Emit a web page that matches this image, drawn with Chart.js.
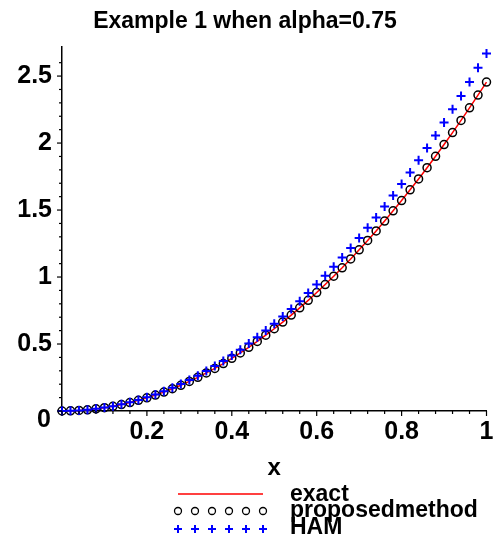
<!DOCTYPE html>
<html><head><meta charset="utf-8">
<script src="https://cdn.jsdelivr.net/npm/chart.js@4"></script>
<style>html,body{margin:0;padding:0;background:#fff}#wrap{width:493px;height:540px}</style>
</head><body><div id="wrap"><canvas id="c" width="493" height="540"></canvas></div>
<script>
const titleText = 'Example 1 when alpha=0.75';
const xAxisTitle = 'x';
const seriesNames = ['exact', 'proposedmethod', 'HAM'];
const xTickLabels = ['0.2', '0.4', '0.6', '0.8', '1'];
const yTickLabels = ['0.5', '1', '1.5', '2', '2.5'];
const originLabel = '0';

const xValues = [0,0.02,0.04,0.06,0.08,0.1,0.12,0.14,0.16,0.18,0.2,0.22,0.24,0.26,0.28,0.3,0.32,0.34,0.36,0.38,0.4,0.42,0.44,0.46,0.48,0.5,0.52,0.54,0.56,0.58,0.6,0.62,0.64,0.66,0.68,0.7,0.72,0.74,0.76,0.78,0.8,0.82,0.84,0.86,0.88,0.9,0.92,0.94,0.96,0.98,1];
const exactValues = [0,0.001,0.004,0.009,0.016,0.025,0.035,0.048,0.063,0.080,0.098,0.119,0.141,0.166,0.192,0.221,0.251,0.284,0.318,0.354,0.393,0.433,0.475,0.519,0.566,0.614,0.664,0.716,0.770,0.826,0.884,0.944,1.006,1.069,1.135,1.203,1.273,1.344,1.418,1.494,1.571,1.651,1.732,1.816,1.901,1.989,2.078,2.169,2.263,2.358,2.455];
const proposedValues = [0,0.001,0.004,0.009,0.016,0.025,0.035,0.048,0.063,0.080,0.098,0.119,0.141,0.166,0.192,0.221,0.251,0.284,0.318,0.354,0.393,0.433,0.475,0.519,0.566,0.614,0.664,0.716,0.770,0.826,0.884,0.944,1.006,1.069,1.135,1.203,1.273,1.344,1.418,1.494,1.571,1.651,1.732,1.816,1.901,1.989,2.078,2.169,2.263,2.358,2.455];
const hamValues = [0,0.001,0.004,0.009,0.016,0.026,0.036,0.050,0.065,0.083,0.102,0.124,0.147,0.173,0.201,0.232,0.263,0.298,0.335,0.373,0.415,0.458,0.503,0.550,0.600,0.652,0.706,0.762,0.820,0.881,0.944,1.009,1.076,1.145,1.217,1.291,1.367,1.445,1.526,1.609,1.694,1.781,1.871,1.963,2.056,2.153,2.252,2.352,2.456,2.562,2.669];

const toPts = ys => xValues.map((x, i) => ({x: x, y: ys[i]}));
const fmt = v => String(Math.round(v * 100) / 100);
const isMult = (v, s) => Math.abs(v / s - Math.round(v / s)) < 1e-6;

const tickPlugin = {
  id: 'customTicks',
  afterDraw(chart) {
    const ctx = chart.ctx;
    const xs = chart.scales.x, ys = chart.scales.y;
    const ca = chart.chartArea;
    ctx.save();
    ctx.strokeStyle = '#000';
    ctx.lineWidth = 1.2;
    ys.ticks.forEach(t => {
      const py = ys.getPixelForValue(t.value);
      const len = isMult(t.value, 0.5) ? 5 : 3;
      ctx.beginPath(); ctx.moveTo(ca.left - len, py); ctx.lineTo(ca.left, py); ctx.stroke();
    });
    xs.ticks.forEach(t => {
      const px = xs.getPixelForValue(t.value);
      const len = isMult(t.value, 0.2) ? 5 : 3;
      ctx.beginPath(); ctx.moveTo(px, ca.bottom); ctx.lineTo(px, ca.bottom + len); ctx.stroke();
    });
    ctx.fillStyle = '#000';
    ctx.font = 'bold 25px "Liberation Sans", Arial, sans-serif';
    ctx.textAlign = 'right';
    ctx.textBaseline = 'middle';
    ctx.fillText(originLabel, ca.left - 11, ys.getPixelForValue(0) + 9);
    ctx.restore();
  }
};

const legendPlugin = {
  id: 'customLegend',
  afterDraw(chart) {
    const ctx = chart.ctx;
    const ds = chart.data.datasets;
    const x0 = 178, x1 = 263;
    const rows = [494, 511, 529];
    ctx.save();
    ctx.strokeStyle = ds[0].borderColor;
    ctx.lineWidth = 1.5;
    ctx.beginPath(); ctx.moveTo(x0, rows[0]); ctx.lineTo(x1, rows[0]); ctx.stroke();
    for (let i = 0; i < 6; i++) {
      const px = x0 + i * (x1 - x0) / 5;
      ctx.strokeStyle = ds[1].borderColor;
      ctx.lineWidth = 1.3;
      ctx.beginPath(); ctx.arc(px, rows[1], 3.5, 0, Math.PI * 2); ctx.stroke();
      ctx.strokeStyle = ds[2].borderColor;
      ctx.lineWidth = 2;
      ctx.beginPath();
      ctx.moveTo(px - 4, rows[2]); ctx.lineTo(px + 4, rows[2]);
      ctx.moveTo(px, rows[2] - 4); ctx.lineTo(px, rows[2] + 4);
      ctx.stroke();
    }
    ctx.fillStyle = '#000';
    ctx.font = 'bold 23px "Liberation Sans", Arial, sans-serif';
    ctx.textAlign = 'left';
    ctx.textBaseline = 'middle';
    ctx.fillText(ds[0].label, 290, 495);
    ctx.fillText(ds[1].label, 290, 511);
    ctx.fillText(ds[2].label, 290, 528);
    ctx.restore();
  }
};

new Chart(document.getElementById('c'), {
  type: 'scatter',
  data: {
    datasets: [
      { label: seriesNames[0], data: toPts(exactValues), showLine: true, borderColor: '#ff0000', borderWidth: 1.5, pointRadius: 0, order: 3, clip: false },
      { label: seriesNames[1], data: toPts(proposedValues), showLine: false, pointStyle: 'circle', pointRadius: 4, borderColor: '#000000', backgroundColor: 'rgba(0,0,0,0)', pointBorderWidth: 1.5, order: 2, clip: false },
      { label: seriesNames[2], data: toPts(hamValues), showLine: false, pointStyle: 'cross', pointRadius: 4.5, borderColor: '#0000ff', backgroundColor: '#0000ff', pointBorderWidth: 2, order: 1, clip: false }
    ]
  },
  options: {
    responsive: false,
    animation: false,
    devicePixelRatio: 1,
    events: [],
    layout: { padding: { left: 0, right: 3, top: 0, bottom: 53 } },
    plugins: {
      legend: { display: false },
      tooltip: { enabled: false },
      title: {
        display: true, text: titleText, color: '#000',
        font: { family: '"Liberation Sans", Arial, sans-serif', size: 23, weight: 'bold', lineHeight: 1.2 },
        padding: { top: 8, bottom: 11 }
      }
    },
    scales: {
      x: {
        type: 'linear', min: 0, max: 1,
        border: { display: true, color: '#000', width: 1.5 },
        grid: { display: true, drawOnChartArea: false, drawTicks: true, tickLength: 5, tickColor: 'rgba(0,0,0,0)' },
        ticks: {
          stepSize: 0.04, autoSkip: false, maxRotation: 0, minRotation: 0, padding: 1, color: '#000',
          font: { family: '"Liberation Sans", Arial, sans-serif', size: 25, weight: 'bold' },
          callback: v => { const s = fmt(v); return xTickLabels.includes(s) ? s : ''; }
        },
        title: { display: true, text: xAxisTitle, color: '#000', padding: { top: 4, bottom: 4 },
          font: { family: '"Liberation Sans", Arial, sans-serif', size: 24, weight: 'bold', lineHeight: 1.2 } },
        afterFit: s => { s.height = 76; s.paddingLeft = 0; s.paddingRight = 0; }
      },
      y: {
        type: 'linear', min: 0, max: 2.72,
        border: { display: true, color: '#000', width: 1.5 },
        grid: { display: true, drawOnChartArea: false, drawTicks: true, tickLength: 5, tickColor: 'rgba(0,0,0,0)' },
        ticks: {
          stepSize: 0.1, autoSkip: false, padding: 5, color: '#000',
          font: { family: '"Liberation Sans", Arial, sans-serif', size: 25, weight: 'bold' },
          callback: v => { const s = fmt(v); return yTickLabels.includes(s) ? s : ''; }
        },
        afterBuildTicks: s => { s.ticks = s.ticks.filter(t => isMult(t.value, 0.1)); },
        afterFit: s => { s.width = 62; s.paddingTop = 0; s.paddingBottom = 0; }
      }
    }
  },
  plugins: [tickPlugin, legendPlugin]
});
</script>
</body></html>
